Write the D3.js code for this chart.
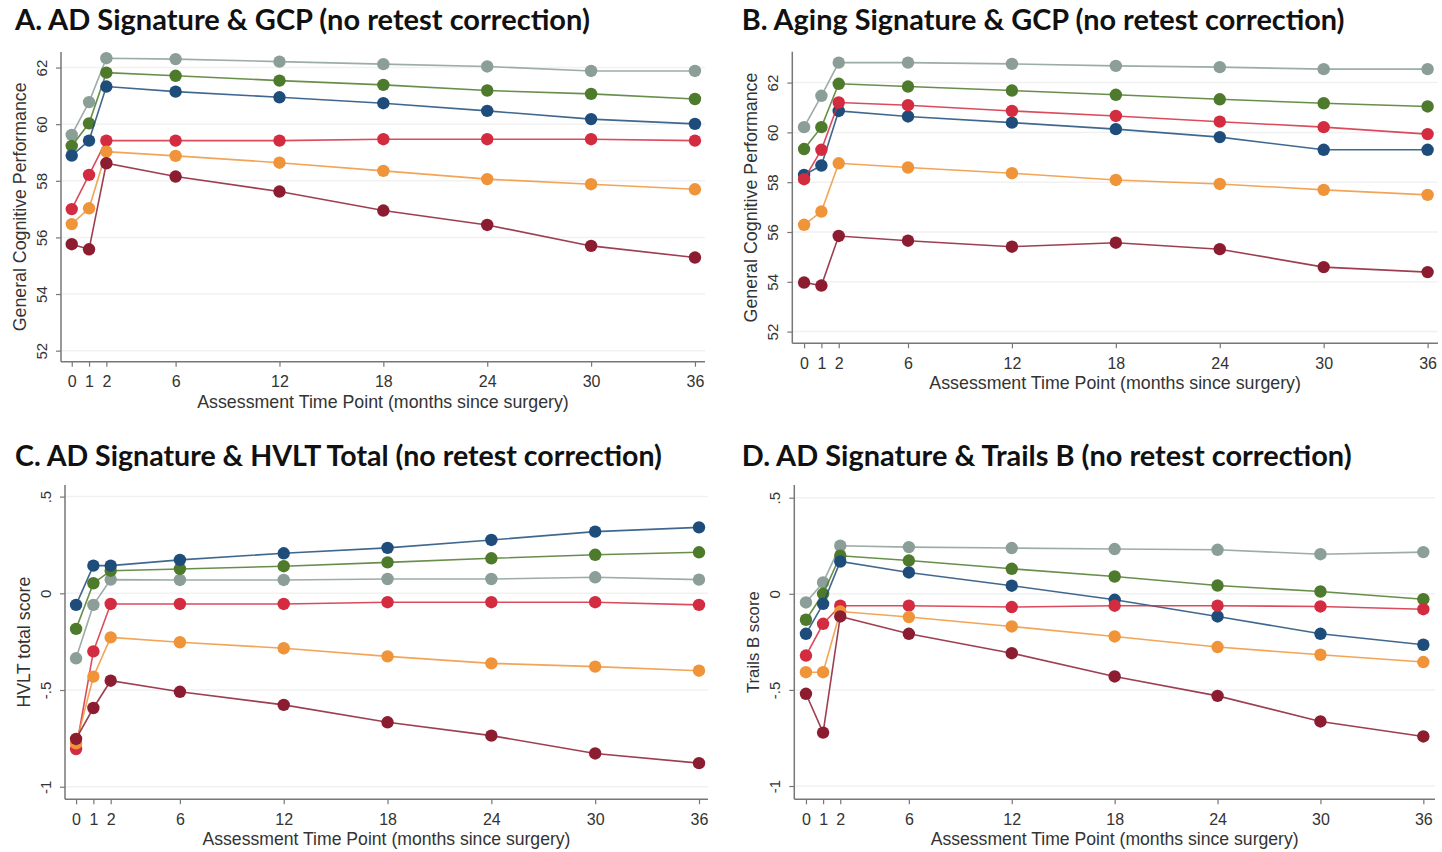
<!DOCTYPE html>
<html>
<head>
<meta charset="utf-8">
<script src="https://cdn.jsdelivr.net/npm/d3@7"></script>
<style>
  html, body { margin: 0; padding: 0; background: #fff; }
  svg { display: block; }
</style>
</head>
<body>
<svg id="chart" width="1442" height="852"></svg>
<script>
// ---------------- DATA ----------------
const months = [0, 1, 2, 6, 12, 18, 24, 30, 36];
const seriesNames = ["grey", "green", "blue", "red", "orange", "maroon"];
const seriesColors = ["#8b9e98", "#4e7a2b", "#1e4d7b", "#d32c40", "#f0943a", "#8c1d31"];

const titles = [
  "A. AD Signature & GCP (no retest correction)",
  "B. Aging Signature & GCP (no retest correction)",
  "C. AD Signature & HVLT Total (no retest correction)",
  "D. AD Signature & Trails B (no retest correction)"
];
const yLabels = ["General Cognitive Performance", "General Cognitive Performance", "HVLT total score", "Trails B score"];
const xLabel = "Assessment Time Point (months since surgery)";
const gcpTicks = [52, 54, 56, 58, 60, 62];
const zTicks = [-1, -0.5, 0, 0.5];
const zTickLabels = ["-1", "-.5", "0", ".5"];

// Panel A: AD signature & GCP
const aGrey   = [59.62, 60.78, 62.33, 62.30, 62.21, 62.12, 62.04, 61.88, 61.88];
const aGreen  = [59.23, 60.03, 61.82, 61.71, 61.54, 61.39, 61.19, 61.07, 60.89];
const aBlue   = [58.89, 59.42, 61.33, 61.15, 60.95, 60.74, 60.47, 60.18, 60.01];
const aRed    = [57.00, 58.21, 59.42, 59.42, 59.42, 59.47, 59.47, 59.47, 59.42];
const aOrange = [56.47, 57.03, 59.03, 58.88, 58.64, 58.35, 58.06, 57.88, 57.70];
const aMaroon = [55.76, 55.58, 58.62, 58.15, 57.62, 56.95, 56.44, 55.70, 55.29];

// Panel B: Aging signature & GCP
const bGrey   = [60.21, 61.47, 62.80, 62.80, 62.75, 62.67, 62.62, 62.54, 62.54];
const bGreen  = [59.33, 60.21, 61.95, 61.84, 61.68, 61.51, 61.33, 61.17, 61.04];
const bBlue   = [58.29, 58.67, 60.86, 60.64, 60.39, 60.13, 59.81, 59.30, 59.30];
const bRed    = [58.12, 59.30, 61.20, 61.09, 60.86, 60.66, 60.43, 60.21, 59.93];
const bOrange = [56.29, 56.82, 58.76, 58.59, 58.36, 58.09, 57.93, 57.69, 57.49];
const bMaroon = [53.97, 53.85, 55.84, 55.65, 55.41, 55.57, 55.31, 54.59, 54.39];

// Panel C: AD signature & HVLT total
const cGrey   = [-0.336, -0.060, 0.071, 0.069, 0.069, 0.074, 0.074, 0.083, 0.071];
const cGreen  = [-0.184, 0.052, 0.117, 0.126, 0.140, 0.160, 0.181, 0.199, 0.212];
const cBlue   = [-0.060, 0.143, 0.143, 0.173, 0.207, 0.235, 0.276, 0.319, 0.341];
const cRed    = [-0.805, -0.300, -0.055, -0.055, -0.055, -0.046, -0.046, -0.046, -0.060];
const cOrange = [-0.776, -0.431, -0.228, -0.253, -0.284, -0.326, -0.362, -0.379, -0.400];
const cMaroon = [-0.753, -0.593, -0.452, -0.509, -0.577, -0.667, -0.736, -0.828, -0.878];

// Panel D: AD signature & Trails B
const dGrey   = [-0.045, 0.059, 0.250, 0.243, 0.238, 0.233, 0.229, 0.206, 0.217];
const dGreen  = [-0.135, 0.000, 0.198, 0.173, 0.130, 0.090, 0.043, 0.012, -0.028];
const dBlue   = [-0.208, -0.052, 0.168, 0.111, 0.042, -0.031, -0.118, -0.208, -0.265];
const dRed    = [-0.321, -0.156, -0.062, -0.062, -0.069, -0.062, -0.062, -0.066, -0.080];
const dOrange = [-0.408, -0.408, -0.092, -0.121, -0.170, -0.222, -0.277, -0.317, -0.355];
const dMaroon = [-0.520, -0.722, -0.118, -0.208, -0.309, -0.430, -0.531, -0.664, -0.742];

// ---------------- LAYOUT ----------------
const svg = d3.select("#chart");
const tickFont = "Liberation Sans, Arial, sans-serif";
const titleFont = "Lato, Open Sans, sans-serif";

function fitText(sel, targetWidth, baseSize) {
  sel.style("font-size", baseSize + "px");
  const w = sel.node().getComputedTextLength();
  if (w > 0) sel.style("font-size", (baseSize * targetWidth / w).toFixed(2) + "px");
}

const panels = [
  { title: titles[0], titleX: 15, titleY: 30, titleW: 575,
    xPix: [61, 705], xDom: [-0.62, 36.58], yPix: [361.7, 52], yDom: [51.61, 62.55],
    ticks: gcpTicks, tickLabels: gcpTicks.map(String), yLabel: yLabels[0], yLabelW: 249, xLabelW: 372,
    data: [aGrey, aGreen, aBlue, aRed, aOrange, aMaroon] },
  { title: titles[1], titleX: 741.7, titleY: 30, titleW: 603,
    xPix: [792.3, 1438], xDom: [-0.68, 36.6], yPix: [343.3, 51.7], yDom: [51.53, 63.24],
    ticks: gcpTicks, tickLabels: gcpTicks.map(String), yLabel: yLabels[1], yLabelW: 250, xLabelW: 372,
    data: [bGrey, bGreen, bBlue, bRed, bOrange, bMaroon] },
  { title: titles[2], titleX: 15, titleY: 466, titleW: 647,
    xPix: [65, 708], xDom: [-0.64, 36.52], yPix: [799.3, 485], yDom: [-1.065, 0.56],
    ticks: zTicks, tickLabels: zTickLabels, yLabel: yLabels[2], yLabelW: 131, xLabelW: 368,
    data: [cGrey, cGreen, cBlue, cRed, cOrange, cMaroon] },
  { title: titles[3], titleX: 741.7, titleY: 466, titleW: 610,
    xPix: [794.3, 1435], xDom: [-0.68, 36.68], yPix: [799.3, 485], yDom: [-1.069, 0.566],
    ticks: zTicks, tickLabels: zTickLabels, yLabel: yLabels[3], yLabelW: 102, xLabelW: 368,
    data: [dGrey, dGreen, dBlue, dRed, dOrange, dMaroon] }
];

panels.forEach(p => {
  const g = svg.append("g");
  const x = d3.scaleLinear().domain(p.xDom).range(p.xPix);
  const y = d3.scaleLinear().domain(p.yDom).range(p.yPix);

  // title
  const t = g.append("text").attr("x", p.titleX).attr("y", p.titleY)
    .attr("font-family", titleFont).attr("font-weight", 700).attr("fill", "#111")
    .text(p.title);
  fitText(t, p.titleW, 26);

  // gridlines
  g.append("g").selectAll("line").data(p.ticks).join("line")
    .attr("x1", p.xPix[0] + 1).attr("x2", p.xPix[1])
    .attr("y1", d => y(d)).attr("y2", d => y(d))
    .attr("stroke", "#f1f1f1").attr("stroke-width", 1.5);

  // y axis
  const yAxis = d3.axisLeft(y).tickValues(p.ticks).tickSize(5).tickPadding(0)
    .tickFormat((d, i) => p.tickLabels[i]);
  const ya = g.append("g").attr("transform", `translate(${p.xPix[0]},0)`).call(yAxis);
  ya.select(".domain").attr("stroke", "#777").attr("stroke-width", 1.5)
    .attr("d", `M0,${p.yPix[0]}V${p.yPix[1]}`);
  ya.selectAll(".tick line").attr("stroke", "#777").attr("stroke-width", 1.2);
  ya.selectAll(".tick text")
    .attr("x", null).attr("dy", null)
    .attr("transform", "translate(-20,0) rotate(-90)")
    .attr("text-anchor", "middle").attr("dominant-baseline", "central")
    .attr("font-family", tickFont).attr("font-size", 15).attr("fill", "#333");

  // x axis
  const xAxis = d3.axisBottom(x).tickValues(months).tickSize(5).tickPadding(0).tickFormat(d3.format("d"));
  const xa = g.append("g").attr("transform", `translate(0,${p.yPix[0]})`).call(xAxis);
  xa.select(".domain").attr("stroke", "#777").attr("stroke-width", 1.5)
    .attr("d", `M${p.xPix[0]},0H${p.xPix[1]}`);
  xa.selectAll(".tick line").attr("stroke", "#777").attr("stroke-width", 1.2);
  xa.selectAll(".tick text")
    .attr("y", 20).attr("dy", null).attr("dominant-baseline", "central")
    .attr("font-family", tickFont).attr("font-size", 16).attr("fill", "#333");

  // axis labels
  const xl = g.append("text")
    .attr("x", (p.xPix[0] + p.xPix[1]) / 2).attr("y", p.yPix[0] + 40)
    .attr("text-anchor", "middle").attr("dominant-baseline", "central")
    .attr("font-family", tickFont).attr("fill", "#333").text(xLabel);
  fitText(xl, p.xLabelW, 15);

  const yl = g.append("text")
    .attr("transform", `translate(${p.xPix[0] - 41},${(p.yPix[0] + p.yPix[1]) / 2}) rotate(-90)`)
    .attr("text-anchor", "middle").attr("dominant-baseline", "central")
    .attr("font-family", tickFont).attr("fill", "#333").text(p.yLabel);
  fitText(yl, p.yLabelW, 15);

  // series
  const line = d3.line().x((d, i) => x(months[i])).y(d => y(d));
  const sg = g.append("g").selectAll("g").data(p.data).join("g")
    .attr("class", (d, i) => "series " + seriesNames[i]);
  sg.append("path")
    .attr("d", d => line(d))
    .attr("fill", "none")
    .attr("stroke", (d, i) => seriesColors[i])
    .attr("stroke-width", 1.6)
    .attr("stroke-opacity", 0.85);
  sg.each(function(d, i) {
    d3.select(this).selectAll("circle").data(d).join("circle")
      .attr("cx", (v, j) => x(months[j]))
      .attr("cy", v => y(v))
      .attr("r", 6.2)
      .attr("fill", seriesColors[i]);
  });
});
</script>
</body>
</html>
